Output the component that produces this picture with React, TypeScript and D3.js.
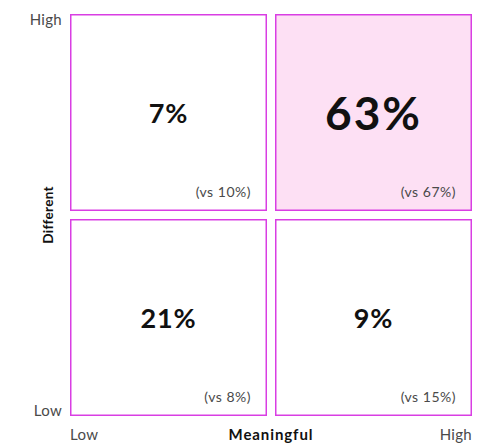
import React from "react";
import * as d3 from "d3";

// Grid levels along each axis
const meaningfulLevels = ["Low", "High"];
const differentLevels = ["Low", "High"];

// Quadrant shares and comparison values
const quadrants = [
  { meaningful: "Low", different: "High", value: 7, compare: 10 },
  { meaningful: "High", different: "High", value: 63, compare: 67 },
  { meaningful: "Low", different: "Low", value: 21, compare: 8 },
  { meaningful: "High", different: "Low", value: 9, compare: 15 },
];
const highlighted = { meaningful: "High", different: "High" };

const W = 477;
const H = 444;
const left = 70;
const right = 472;
const top = 14;
const bottom = 416;
const FONT = "Lato, 'Open Sans', sans-serif";
const BORDER = "#d93ee3";
const FILL_HI = "#fde0f4";
const GREY = "#4a4a4a";

export default function App() {
  const x = d3
    .scaleBand<string>()
    .domain(meaningfulLevels)
    .range([left, right])
    .paddingInner(8 / 205)
    .paddingOuter(0);
  const y = d3
    .scaleBand<string>()
    .domain([...differentLevels].reverse())
    .range([top, bottom])
    .paddingInner(8 / 205)
    .paddingOuter(0);
  const bw = x.bandwidth();
  const bh = y.bandwidth();

  return (
    <svg
      width={W}
      height={H}
      style={{ position: "absolute", left: 0, top: 0 }}
      fontFamily={FONT}
    >
      {quadrants.map((q, i) => {
        const x0 = x(q.meaningful)!;
        const y0 = y(q.different)!;
        const hi =
          q.meaningful === highlighted.meaningful &&
          q.different === highlighted.different;
        return (
          <g key={i}>
            <rect
              x={x0 + 0.75}
              y={y0 + 0.75}
              width={bw - 1.5}
              height={bh - 1.5}
              fill={hi ? FILL_HI : "#ffffff"}
              stroke={BORDER}
              strokeWidth={1.5}
            />
            <text
              x={x0 + bw / 2}
              y={y0 + bh / 2 + (hi ? 17.5 : 10.5)}
              textAnchor="middle"
              fontWeight={700}
              fontSize={hi ? 46 : 27}
              letterSpacing={hi ? 2 : 0.8}
              fill="#111"
            >
              {q.value}%
            </text>
            <text
              x={x0 + bw - 16}
              y={y0 + bh - 14}
              textAnchor="end"
              fontSize={14}
              letterSpacing={0.5}
              fill={GREY}
            >
              (vs {q.compare}%)
            </text>
          </g>
        );
      })}
      {/* Y axis level labels */}
      <text x={62} y={25} textAnchor="end" fontSize={15} letterSpacing={0.3} fill={GREY}>
        High
      </text>
      <text x={62} y={416} textAnchor="end" fontSize={15} letterSpacing={0.3} fill={GREY}>
        Low
      </text>
      <text
        transform={`translate(53, ${(top + bottom) / 2}) rotate(-90)`}
        textAnchor="middle"
        fontSize={13.5}
        fontWeight={700}
        letterSpacing={0.3}
        fill="#111"
      >
        Different
      </text>
      {/* X axis level labels */}
      <text x={left} y={440} textAnchor="start" fontSize={15} letterSpacing={0.3} fill={GREY}>
        Low
      </text>
      <text x={right} y={440} textAnchor="end" fontSize={15} letterSpacing={0.3} fill={GREY}>
        High
      </text>
      <text
        x={(left + right) / 2}
        y={440}
        textAnchor="middle"
        fontSize={15}
        fontWeight={700}
        letterSpacing={0.9}
        fill="#111"
      >
        Meaningful
      </text>
    </svg>
  );
}
